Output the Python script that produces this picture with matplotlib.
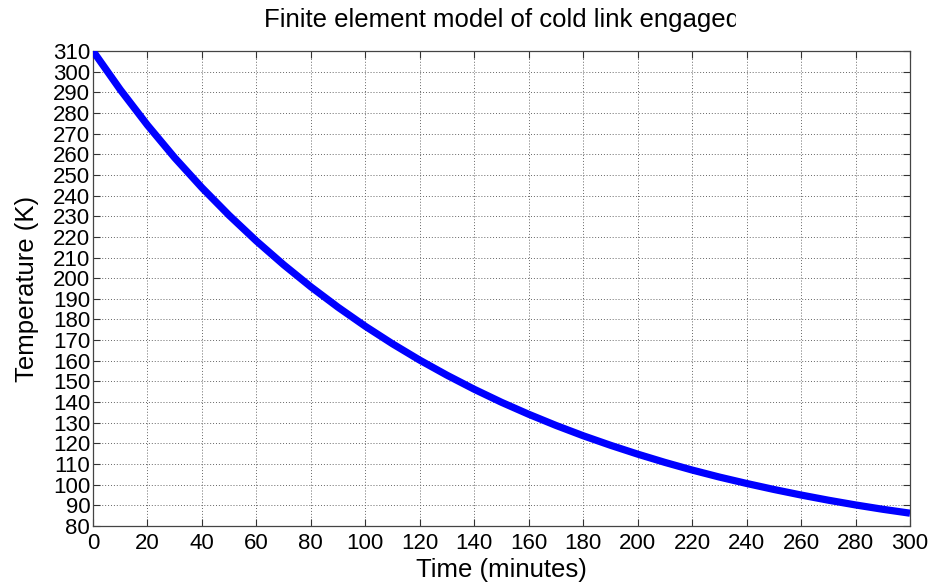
import matplotlib
matplotlib.use("Agg")
import matplotlib.pyplot as plt
from matplotlib.patches import Rectangle

# Cooling curve of the cold link, sampled every 10 minutes
time_min = [0, 10, 20, 30, 40, 50, 60, 70, 80, 90, 100, 110, 120, 130, 140, 150,
            160, 170, 180, 190, 200, 210, 220, 230, 240, 250, 260, 270, 280, 290, 300]
temperature_k = [310, 291.3, 274.1, 258.3, 243.8, 230.4, 218, 206.5, 195.8, 185.9,
                 176.7, 168.2, 160.3, 153, 146.2, 139.9, 134.1, 128.7, 123.7, 119.1,
                 114.8, 110.8, 107.1, 103.7, 100.6, 97.7, 95, 92.5, 90.2, 88.1, 86.2]

x_ticks = list(range(0, 301, 20))
y_ticks = list(range(80, 311, 10))

title_text = "Finite element model of cold link engaged"
x_label = "Time (minutes)"
y_label = "Temperature (K)"

plt.rcParams["font.family"] = ["Liberation Sans", "DejaVu Sans"]

W, H = 933, 587
fig = plt.figure(figsize=(W / 100, H / 100), dpi=100)
left, right, top, bottom = 93, 910, 51, 526
ax = fig.add_axes([left / W, (H - bottom) / H, (right - left) / W, (bottom - top) / H])

ax.plot(time_min, temperature_k, color="#0000ff", lw=5.2, solid_capstyle="butt",
        solid_joinstyle="round", zorder=3)

ax.set_xlim(0, 300)
ax.set_ylim(80, 310)
ax.set_xticks(x_ticks)
ax.set_yticks(y_ticks)
ax.tick_params(axis="both", direction="in", length=5, width=0.8, color="#333333",
               labelsize=16, top=True, right=True, labelcolor="black")
ax.tick_params(axis="x", pad=5)
ax.tick_params(axis="y", pad=2)

ax.grid(True, linestyle=(0, (1, 2)), linewidth=0.7, color="#666666")
for sp in ax.spines.values():
    sp.set_color("#444444")
    sp.set_linewidth(0.9)

# Axis labels
fig.text((left + right) / 2 / W, 1 - 570 / H, x_label, ha="center", va="center",
         fontsize=18.5)
fig.text(27 / W, 1 - ((top + bottom) / 2) / H, y_label, ha="center", va="center",
         rotation=90, fontsize=18.5)

# Title centred over the axes; its right end is cut off
fig.text((left + right) / 2 / W, 1 - 20 / H, title_text, ha="center", va="center",
         fontsize=18.5)
fig.patches.append(Rectangle((736 / W, 1 - 42 / H), 1, 42 / H, transform=fig.transFigure,
                             facecolor="white", edgecolor="none", zorder=10))

fig.savefig("out.png", dpi=100)
